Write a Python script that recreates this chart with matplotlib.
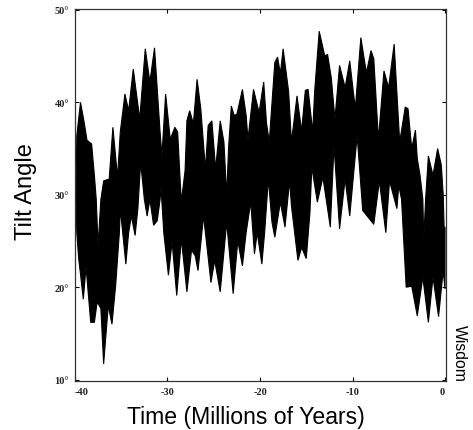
import matplotlib
matplotlib.use("Agg")
import matplotlib.pyplot as plt
import numpy as np

upper_t = [-39.9,-39.8,-39.4,-39.0,-38.7,-38.2,-37.9,-37.7,-37.5,-37.2,-36.9,-36.3,-35.9,-35.4,-35.1,-34.6,-34.2,-33.7,-33.0,-32.4,-31.9,-31.4,-30.8,-30.6,-30.2,-29.7,-29.2,-28.9,-28.6,-28.5,-28.1,-27.9,-27.6,-27.2,-26.8,-26.4,-25.9,-25.6,-25.2,-24.8,-24.3,-23.9,-23.6,-23.4,-23.1,-22.8,-22.5,-21.9,-21.5,-21.3,-20.7,-20.1,-19.6,-19.3,-19.0,-18.4,-18.1,-17.8,-17.5,-16.9,-16.6,-16.0,-15.5,-15.1,-14.8,-14.3,-14.1,-13.6,-13.0,-12.7,-12.3,-11.9,-11.4,-10.8,-10.3,-9.7,-9.1,-8.5,-8.0,-7.7,-7.2,-6.6,-6.1,-5.5,-4.9,-4.3,-4.0,-3.6,-3.2,-3.0,-2.7,-2.4,-2.3,-2.1,-1.8,-1.3,-0.8,-0.4,-0.2,-0.1,0.0]
upper_deg = [30.0,36.4,40.0,37.8,35.9,35.5,32.1,29.5,24.5,29.5,31.5,31.7,37.3,31.9,36.8,40.9,39.1,43.6,38.2,45.8,42.2,45.9,36.8,34.2,40.9,36.0,37.3,36.8,31.0,29.3,32.6,38.0,39.1,37.7,42.5,39.3,32.8,37.5,38.0,32.8,38.0,35.7,29.9,35.0,39.6,38.6,38.7,41.4,38.6,36.0,41.4,38.9,42.2,37.8,35.7,44.3,44.9,43.1,45.8,41.1,35.7,40.7,36.9,41.3,41.4,36.8,41.1,47.7,45.0,45.2,42.7,38.2,44.0,41.6,44.5,39.3,47.0,43.2,45.6,44.7,36.0,43.4,41.6,46.3,35.7,39.5,39.3,35.0,37.0,33.9,32.1,29.5,25.2,29.5,34.2,32.1,35.0,33.2,30.0,26.5,26.5]

lower_t = [-39.9,-39.8,-39.6,-39.4,-39.1,-38.8,-38.3,-37.9,-37.6,-37.2,-36.9,-36.4,-36.0,-35.6,-35.2,-35.1,-34.5,-34.2,-33.9,-33.5,-33.2,-32.9,-32.5,-32.2,-31.9,-31.5,-31.1,-30.8,-30.7,-30.4,-29.9,-29.5,-29.0,-28.5,-27.9,-27.4,-27.0,-26.7,-26.1,-25.3,-24.9,-24.3,-23.6,-22.9,-22.4,-21.9,-21.5,-21.0,-20.6,-20.3,-19.8,-19.5,-19.1,-18.7,-18.4,-17.8,-17.3,-16.8,-16.6,-15.9,-15.5,-15.0,-14.6,-14.4,-13.8,-13.2,-12.4,-12.0,-11.4,-10.8,-10.3,-9.5,-8.9,-7.7,-7.1,-6.4,-6.0,-5.2,-5.0,-4.7,-4.2,-3.6,-3.0,-2.4,-1.8,-1.3,-0.7,-0.2,0.0]
lower_deg = [30.0,25.9,23.1,21.4,18.7,22.2,16.2,16.2,18.4,17.7,11.7,18.0,16.0,20.2,25.9,28.5,22.5,25.9,27.7,25.6,28.5,33.5,29.5,27.7,29.5,26.7,27.2,29.5,30.8,25.9,21.3,24.9,19.1,25.2,19.5,24.0,23.4,21.8,27.7,20.5,22.9,19.5,27.0,19.3,25.0,22.3,25.9,29.2,23.6,25.9,22.5,25.9,31.7,27.0,25.4,29.2,26.5,31.5,28.8,22.9,24.3,23.1,28.1,33.0,29.2,31.9,26.5,35.3,26.3,31.7,27.7,36.4,28.3,26.8,31.5,25.9,31.5,28.5,31.0,29.5,20.0,20.1,16.9,21.1,16.2,21.1,16.8,21.8,19.8]

x_ticks = [-40,-30,-20,-10,0]
x_labels = ["-40","-30","-20","-10","0"]
y_ticks = [10,20,30,40,50]
y_labels = ["10°","20°","30°","40°","50°"]

W, H = 473, 431
fig = plt.figure(figsize=(W/100, H/100), dpi=100, facecolor="white")
ax = fig.add_axes([74.5/W, 1-382/H, 371/W, 372/H])
ax.fill(np.r_[upper_t, lower_t[::-1]], np.r_[upper_deg, lower_deg[::-1]],
        color="black", lw=0.8, joinstyle="miter")
ax.set_xlim(-40.05, 0.05)
ax.set_ylim(9.85, 50.1)
ax.set_xticks(x_ticks)
ax.set_xticklabels(x_labels, family="Liberation Serif", weight="bold", fontsize=7.5, color="#222222")
ax.set_yticks(y_ticks)
ax.set_yticklabels(y_labels, family="Liberation Serif", weight="bold", fontsize=7.5, color="#222222")
ax.tick_params(direction="in", length=3, width=0.8, top=True, right=True, pad=4)
ax.get_xticklabels()[0].set_ha("left")
ax.get_xticklabels()[-1].set_ha("right")
for s in ax.spines.values():
    s.set_linewidth(0.9)
    s.set_color("#333333")
fig.text(26/W, 1-192/H, "Tilt Angle", rotation=90, ha="center", va="center",
         family="Liberation Sans", fontsize=17)
fig.text(246/W, 1-418/H, "Time (Millions of Years)", ha="center", va="center",
         family="Liberation Sans", fontsize=16.6)
fig.text(459/W, 1-353/H, "Wisdom", rotation=270, ha="center", va="center",
         family="Liberation Sans", fontsize=11.3)
fig.savefig("out.png", dpi=100)
